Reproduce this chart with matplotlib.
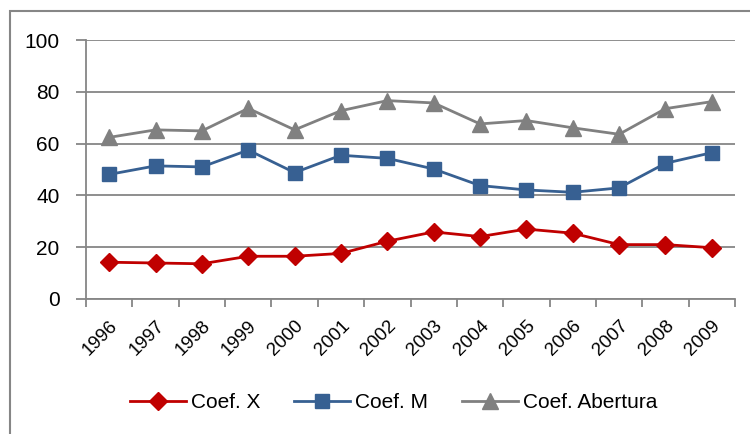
import matplotlib
matplotlib.use("Agg")
import matplotlib.pyplot as plt
from matplotlib.patches import Rectangle

years = ["1996", "1997", "1998", "1999", "2000", "2001", "2002",
         "2003", "2004", "2005", "2006", "2007", "2008", "2009"]
coef_x = [14.2, 13.9, 13.6, 16.5, 16.5, 17.6, 22.3, 25.9, 24.1, 27.0, 25.4, 21.0, 21.0, 19.8]
coef_m = [48.1, 51.4, 51.0, 57.5, 48.8, 55.5, 54.3, 50.2, 43.8, 42.1, 41.2, 42.9, 52.4, 56.5]
coef_ab = [62.4, 65.3, 64.9, 73.6, 65.3, 72.7, 76.6, 75.7, 67.6, 68.9, 66.1, 63.6, 73.5, 76.2]
yticks = [0, 20, 40, 60, 80, 100]

plt.rcParams['font.family'] = ['Liberation Sans', 'DejaVu Sans']

W, H = 750, 434
fig = plt.figure(figsize=(W / 100, H / 100), dpi=100)
ax = fig.add_axes([86 / W, 1 - 299 / H, (735 - 86) / W, (299 - 40) / H])

# outer chart border
fig.patches.append(Rectangle((10 / W, -0.1), 1.2, 1 - 11 / H + 0.1, transform=fig.transFigure,
                             fill=False, edgecolor='#868686', linewidth=1.5))

x = list(range(len(years)))
ax.plot(x, coef_x, color='#C00000', lw=2, marker='D', ms=9, label='Coef. X', zorder=3)
ax.plot(x, coef_m, color='#376092', lw=2, marker='s', ms=10, label='Coef. M', zorder=3)
ax.plot(x, coef_ab, color='#808080', lw=2, marker='^', ms=11, label='Coef. Abertura', zorder=3)

ax.set_xlim(-0.5, len(years) - 0.5)
ax.set_ylim(0, 100)
ax.set_yticks(yticks)
ax.set_yticklabels([str(v) for v in yticks], fontsize=15)
ax.yaxis.grid(True, color='#868686', lw=1.3)
ax.set_axisbelow(True)

ax.set_xticks([i - 0.5 for i in range(len(years) + 1)])
ax.set_xticklabels([])
ax.set_xticks(x, minor=True)
ax.set_xticklabels(years, minor=True, rotation=45, ha='right', va='top',
                   rotation_mode='anchor', fontsize=13.5)
ax.tick_params(axis='x', which='minor', length=0, pad=13)
ax.tick_params(axis='x', which='major', length=6, color='#868686', width=1.3)
ax.tick_params(axis='y', length=7, color='#868686', width=1.3, pad=12)

for s in ['top', 'right']:
    ax.spines[s].set_visible(False)
for s in ['left', 'bottom']:
    ax.spines[s].set_color('#868686')
    ax.spines[s].set_linewidth(1.3)

fig.legend(loc='center', bbox_to_anchor=(0.525, 1 - 403 / H), ncol=3, frameon=False,
           fontsize=15, handlelength=2.7, columnspacing=1.6, handletextpad=0.25)

fig.savefig("out.png", dpi=100)
